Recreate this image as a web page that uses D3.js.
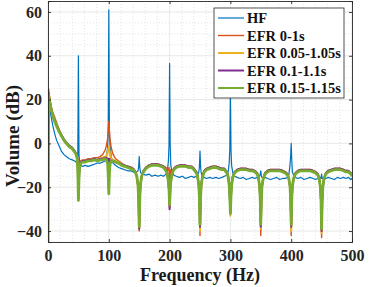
<!DOCTYPE html>
<html>
<head>
<meta charset="utf-8">
<script src="https://cdn.jsdelivr.net/npm/d3@7"></script>
<style>
  body { margin: 0; background: #fff; }
  svg { display: block; }
  text { font-family: "Liberation Serif", "Times New Roman", serif; font-weight: bold; }
</style>
</head>
<body>
<div id="chart"></div>
<script>
//Frequency grid (Hz) shared by all spectra
const FREQS = [
  0, 1, 2, 4, 6, 8, 11, 14, 18, 22, 26, 30, 35, 40, 44, 46, 48, 49,
  50, 51, 52, 54, 57, 61, 66, 71, 76, 81, 86, 90, 94, 96, 98, 99,
  100, 101, 102, 104, 107, 111, 116, 121, 126, 131, 136, 140, 144, 146, 148, 149,
  150, 151, 152, 154, 157, 161, 166, 171, 176, 181, 186, 190, 194, 196, 198, 199,
  200, 201, 202, 204, 207, 211, 216, 221, 226, 231, 236, 240, 244, 246, 248, 249,
  250, 251, 252, 254, 257, 261, 266, 271, 276, 281, 286, 290, 294, 296, 298, 299,
  300, 301, 302, 304, 307, 311, 316, 321, 326, 331, 336, 340, 344, 346, 348, 349,
  350, 351, 352, 354, 357, 361, 366, 371, 376, 381, 386, 390, 394, 396, 398, 399,
  400, 401, 402, 404, 407, 411, 416, 421, 426, 431, 436, 440, 444, 446, 448, 449,
  450, 451, 452, 454, 457, 461, 466, 471, 476, 481, 486, 490, 494, 496, 498, 499,
  500
];

//Volume (dB) per series
const HF = [
  -50, 20, 18, 14, 11, 8, 4.5, 1.5, -1, -3.5, -5, -6, -7, -7.5, -8, -8.5, -8, -6,
  40, -5, -9, -10, -10.5, -10, -10.5, -10, -9.5, -9, -9, -8.5, -8, -6, -2, 5,
  61, 5, -1, -6, -9, -10, -11, -11.5, -12, -12.5, -12.5, -13, -13.5, -13, -12.5, -11,
  -6, -11, -13, -14, -14, -14.5, -14, -15, -14.5, -15, -14.5, -15, -14, -13.5, -8, -1,
  36.5, -1, -10, -13, -14.5, -15, -15.5, -15, -16, -15.5, -15, -15.5, -15, -14.5, -13, -11,
  -3.5, -11, -13.5, -15, -15.5, -16, -15.5, -16, -15.5, -16, -15.5, -15, -14.5, -13.5, -9, -3,
  25, -3, -10, -13.5, -15, -15.5, -16, -15.5, -16.5, -16, -15.5, -16, -15.5, -15, -15, -14,
  -12.5, -15, -15.5, -16, -15.5, -16, -16.5, -16, -15.5, -16.5, -16, -16, -15.5, -14.5, -10, -6,
  0, -8, -13, -14.5, -15.5, -16, -15.5, -16.5, -16, -15.5, -16, -16.5, -16, -15.5, -15.5, -16,
  -14, -16, -16, -16.5, -16, -15.5, -16, -16.5, -15.5, -16, -15.5, -16, -15.5, -16, -16.5, -16,
  -16.5
];

const EFR_0 = [
  -50, 25, 22.5, 19, 16, 14, 12, 9.5, 6.5, 4, 2, 0.5, -1, -2, -3.5, -4.5, -5, -8,
  -20, -10, -8, -8, -7.5, -7.5, -7, -7, -6.5, -6.5, -6, -5, -3, -1, 2, 6,
  10, 6, 2, -2, -5, -7, -8, -9, -10, -10.5, -11, -11.5, -13, -15, -19, -26,
  -40, -26, -19, -15, -12.5, -11, -10, -9.5, -9.5, -9.5, -10, -10.5, -11, -11.5, -12, -11,
  -29, -12, -14, -13, -11.5, -10.5, -10, -10, -10, -10.5, -10.5, -11.5, -13, -15, -19, -26,
  -42, -26, -19, -15, -12.5, -11.5, -11, -10.5, -10.5, -11, -11.5, -11.5, -13, -14.5, -18, -23,
  -31, -23, -18, -15, -13, -12, -11.5, -11.5, -11.5, -12, -12, -12.5, -13.5, -15.5, -20, -27,
  -42, -27, -20, -16, -13.5, -12.5, -12, -12, -12, -12, -12.5, -13, -14, -16, -20, -27,
  -42, -27, -20, -16, -13.5, -12.5, -12, -12, -12, -12, -12.5, -13, -14, -16, -20, -27,
  -43, -27, -20, -16, -13.5, -12.5, -12, -11.5, -11.5, -11.5, -12, -12.5, -12.5, -13, -13.5, -14,
  -14.5
];

const EFR_005 = [
  -50, 23.5, 21, 18, 15, 13, 11, 8.5, 6, 3.5, 1.5, 0, -1.5, -2.5, -4, -5, -6.5, -10,
  -23, -13, -10, -8.5, -8, -8, -7.5, -7.5, -7, -7.5, -7, -6.5, -6, -6, -4, -2.5,
  -1.5, -3, -5, -7, -7.5, -8, -8.5, -9.5, -10, -10.5, -11, -11.5, -13, -15, -19, -25,
  -39, -25, -19, -15, -12.5, -11, -10, -9.5, -9.5, -9.5, -10, -10.5, -12, -13.5, -17, -21,
  -29, -21, -17, -13.5, -11.5, -10.5, -10, -10, -10, -10.5, -10.5, -11.5, -13, -15, -19, -25,
  -40, -25, -19, -15, -12.5, -11.5, -11, -10.5, -10.5, -11, -11.5, -11.5, -13, -14.5, -18.5, -24,
  -33, -24, -18.5, -15, -13, -12, -11.5, -11.5, -11.5, -12, -12, -12.5, -13.5, -15.5, -19.5, -25,
  -39, -25, -19.5, -16, -13.5, -12.5, -12, -12, -12, -12, -12.5, -13, -14, -16, -19.5, -25,
  -40, -25, -19.5, -16, -13.5, -12.5, -12, -12, -12, -12, -12.5, -13, -14, -16, -20, -26,
  -41, -26, -20, -16, -13.5, -12.5, -12, -11.5, -11.5, -11.5, -12, -12.5, -12.5, -13, -13.5, -14,
  -14.5
];

const EFR_01 = [
  -50, 23, 20.5, 17.5, 15, 13, 10.5, 8.5, 6, 4, 2, 0.5, -1, -2, -3.5, -4.5, -6.5, -11,
  -25, -15, -10.5, -8.5, -8, -8, -7.5, -7.5, -7, -7.5, -7, -7, -6.5, -6.5, -7, -7,
  -21, -7, -8, -8, -8, -8.5, -9, -9.5, -10, -10.5, -11, -11.5, -13, -15, -19, -25,
  -39, -25, -19, -15, -12.5, -11, -10, -9.5, -9.5, -9.5, -10, -10.5, -12, -13.5, -17, -21,
  -30, -21, -17, -13.5, -11.5, -10.5, -10, -10, -10, -10.5, -10.5, -11.5, -13, -15, -19, -25,
  -38, -25, -19, -15, -12.5, -11.5, -11, -10.5, -10.5, -11, -11.5, -11.5, -13, -14.5, -18.5, -24,
  -31.5, -24, -18.5, -15, -13, -12, -11.5, -11.5, -11.5, -12, -12, -12.5, -13.5, -15.5, -19.5, -25,
  -38, -25, -19.5, -16, -13.5, -12.5, -12, -12, -12, -12, -12.5, -13, -14, -16, -19.5, -25,
  -38, -25, -19.5, -16, -13.5, -12.5, -12, -12, -12, -12, -12.5, -13, -14, -16, -20, -26,
  -40, -26, -20, -16, -13.5, -12.5, -12, -11.5, -11.5, -11.5, -12, -12.5, -12.5, -13, -13.5, -14,
  -14.5
];

const EFR_015 = [
  -50, 22, 20, 17, 14.5, 12.5, 10, 8, 5.5, 3.5, 1.5, 0, -1.5, -2.5, -4, -5, -7, -12,
  -26, -16, -11, -9, -8.5, -8.5, -8, -8, -7.5, -8, -7.5, -7.5, -7, -7.5, -9, -14,
  -23, -14, -9.5, -8, -8, -8.5, -9, -10, -10.5, -11, -11.5, -12, -13.5, -15, -19, -25,
  -38, -25, -19, -15, -13, -11.5, -10.5, -10, -10, -10, -10.5, -11, -12.5, -14, -17.5, -21,
  -28, -21, -17.5, -14, -12, -11, -10.5, -10.5, -10.5, -11, -11, -12, -13.5, -15, -19, -25,
  -37, -25, -19, -15.5, -13, -12, -11.5, -11, -11, -11.5, -12, -12, -13.5, -15, -19, -24,
  -32, -24, -19, -15.5, -13.5, -12.5, -12, -12, -12, -12.5, -12.5, -13, -14, -15.5, -19.5, -25,
  -37, -25, -19.5, -16, -14, -13, -12.5, -12.5, -12.5, -12.5, -13, -13.5, -14.5, -16, -19.5, -25,
  -37, -25, -19.5, -16, -14, -13, -12.5, -12.5, -12.5, -12.5, -13, -13.5, -14.5, -16, -20, -26,
  -39, -26, -20, -16, -14, -13, -12.5, -12, -12, -12, -12.5, -13, -13, -13.5, -14, -14.5,
  -15
];

const SERIES_NAMES = ["HF", "EFR 0-1s", "EFR 0.05-1.05s", "EFR 0.1-1.1s", "EFR 0.15-1.15s"];
const SERIES_VALUES = [HF, EFR_0, EFR_005, EFR_01, EFR_015];
const X_TICKS = [0, 100, 200, 300, 400, 500];
const Y_TICKS = [-40, -20, 0, 20, 40, 60];

//MATLAB default colour order
const COLORS = ["#0072BD", "#D95319", "#EDB120", "#7E2F8E", "#77AC30"];
const WIDTHS = [1.2, 1.4, 2, 2, 2.8];

const W = 374, H = 287;
const margin = {left: 48, right: 22, top: 1, bottom: 45};

const svg = d3.select("#chart").append("svg")
    .attr("width", W)
    .attr("height", H);

const x = d3.scaleLinear().domain([0, 500]).range([margin.left, W - margin.right]);
const y = d3.scaleLinear().domain([-45, 65]).range([H - margin.bottom, margin.top]);

//Grid: minor dotted, major solid
const g = svg.append("g");
g.selectAll("line.xminor")
    .data(d3.range(20, 500, 20).filter(v => v % 100 !== 0))
    .enter().append("line")
    .attr("x1", d => x(d)).attr("x2", d => x(d))
    .attr("y1", y(-45)).attr("y2", y(65))
    .attr("stroke", "#d4d4d4").attr("stroke-width", 0.6)
    .attr("stroke-dasharray", "1,2");
g.selectAll("line.yminor")
    .data(d3.range(-45, 65, 5).filter(v => v % 20 !== 0))
    .enter().append("line")
    .attr("x1", x(0)).attr("x2", x(500))
    .attr("y1", d => y(d)).attr("y2", d => y(d))
    .attr("stroke", "#d4d4d4").attr("stroke-width", 0.6)
    .attr("stroke-dasharray", "1,2");
g.selectAll("line.xmajor")
    .data(X_TICKS)
    .enter().append("line")
    .attr("x1", d => x(d)).attr("x2", d => x(d))
    .attr("y1", y(-45)).attr("y2", y(65))
    .attr("stroke", "#e3e3e3").attr("stroke-width", 0.8);
g.selectAll("line.ymajor")
    .data(Y_TICKS)
    .enter().append("line")
    .attr("x1", x(0)).attr("x2", x(500))
    .attr("y1", d => y(d)).attr("y2", d => y(d))
    .attr("stroke", "#e3e3e3").attr("stroke-width", 0.8);

//Clip the spectra to the axes box
svg.append("clipPath").attr("id", "plotClip")
    .append("rect")
    .attr("x", x(0)).attr("y", y(65))
    .attr("width", x(500) - x(0)).attr("height", y(-45) - y(65));

const line = d3.line()
    .x((d, i) => x(FREQS[i]))
    .y(d => y(d));

svg.append("g").attr("clip-path", "url(#plotClip)")
    .selectAll("path")
    .data(SERIES_VALUES)
    .enter().append("path")
    .attr("d", d => line(d))
    .attr("fill", "none")
    .attr("stroke", (d, i) => COLORS[i])
    .attr("stroke-width", (d, i) => WIDTHS[i])
    .attr("stroke-linejoin", "round");

//Axes with inward ticks on all four sides (box on)
const axisColor = "#262626";
const xAxis = svg.append("g")
    .attr("transform", "translate(0," + y(-45) + ")")
    .call(d3.axisBottom(x).tickValues(X_TICKS).tickSize(-3).tickPadding(8));
const yAxis = svg.append("g")
    .attr("transform", "translate(" + x(0) + ",0)")
    .call(d3.axisLeft(y).tickValues(Y_TICKS).tickSize(-3).tickPadding(6));
const xTop = svg.append("g")
    .attr("transform", "translate(0," + y(65) + ")")
    .call(d3.axisTop(x).tickValues(X_TICKS).tickSize(-3).tickFormat(""));
const yRight = svg.append("g")
    .attr("transform", "translate(" + x(500) + ",0)")
    .call(d3.axisRight(y).tickValues(Y_TICKS).tickSize(-3).tickFormat(""));

[xAxis, yAxis, xTop, yRight].forEach(a => {
    a.select(".domain").attr("stroke", axisColor).attr("stroke-width", 0.9);
    a.selectAll(".tick line").attr("stroke", axisColor).attr("stroke-width", 0.9);
    a.selectAll(".tick text")
	.attr("fill", axisColor)
	.style("font-size", "16px");
});

//Axis labels
svg.append("text")
    .attr("x", (x(0) + x(500)) / 2)
    .attr("y", 281)
    .attr("text-anchor", "middle")
    .attr("fill", "#1a1a1a")
    .style("font-size", "18px")
    .text("Frequency (Hz)");

svg.append("text")
    .attr("transform", "translate(18.5,136) rotate(-90)")
    .attr("text-anchor", "middle")
    .attr("fill", "#1a1a1a")
    .style("font-size", "19px")
    .text("Volume (dB)");

//Legend
const legend = svg.append("g").attr("transform", "translate(214,8)");
legend.append("rect")
    .attr("width", 130).attr("height", 90)
    .attr("fill", "#fff")
    .attr("stroke", axisColor).attr("stroke-width", 0.8);

const entries = legend.selectAll("g.entry")
    .data(SERIES_NAMES)
    .enter().append("g")
    .attr("transform", (d, i) => "translate(0," + (10 + i * 17.5) + ")");
entries.append("line")
    .attr("x1", 4).attr("x2", 30)
    .attr("stroke", (d, i) => COLORS[i])
    .attr("stroke-width", (d, i) => Math.min(WIDTHS[i], 2));
entries.append("text")
    .attr("x", 33)
    .attr("dy", "0.35em")
    .attr("fill", "#111")
    .style("font-size", "14.5px")
    .text(d => d);
</script>
</body>
</html>
